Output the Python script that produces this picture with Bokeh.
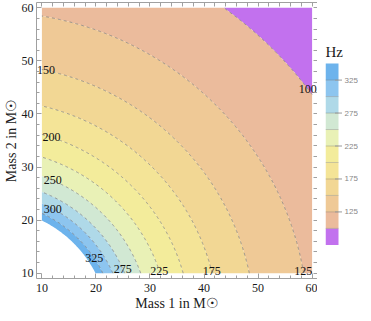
import numpy as np
from bokeh.plotting import figure
from bokeh.layouts import row
from bokeh.models import LinearAxis, FixedTicker, Range1d, ColumnDataSource, Label
from bokeh.core.properties import value
from bokeh.embed import file_html
from bokeh.resources import INLINE

# ---- data ----
levels = [75, 100, 125, 150, 175, 200, 225, 250, 275, 300, 325, 350]
# contour level (Hz) and the radius sqrt(m1^2 + m2^2) at which it lies
level_values = [100, 125, 150, 175, 200, 225, 250, 275, 300, 325, 350]
level_radii = [74.2, 59.3, 49.4, 42.7, 37.5, 33.4, 30.0, 27.2, 25.2, 23.5, 22.3]
band_colors = ["#c271ee", "#ebbb9c", "#efc996", "#f2d794", "#f4e497", "#f3ec9b",
               "#e9f1b6", "#d1e8d3", "#afd9e8", "#8dc5ef", "#6db3ec"]
label_levels = [100, 125, 150, 175, 200, 225, 250, 275, 300, 325]
label_angles = [37.1, 10.1, 77.4, 14.1, 71.7, 18.3, 66.4, 23.3, 61.6, 33.1]
legend_ticks = [125, 175, 225, 275, 325]
mass_ticks = [10, 20, 30, 40, 50, 60]
mass_minor = list(range(10, 61, 2))

# ---- field built from the read contour radii ----
m = np.linspace(10, 60, 251)
M1, M2 = np.meshgrid(m, m)
R = np.hypot(M1, M2)
r_arr = np.array(level_radii)
fr_arr = np.array(level_values) * r_arr
F = np.interp(R, r_arr[::-1], fr_arr[::-1]) / R

serif = "Liberation Serif"
frame_gray = "#a0a0a0"
H = 313

p = figure(width=317, height=H, x_range=Range1d(9, 61), y_range=Range1d(9, 61),
           output_backend="svg", toolbar_location=None,
           min_border_left=0, min_border_right=0, min_border_top=2, min_border_bottom=0,
           x_axis_label="Mass 1 in M\u2609", y_axis_label="Mass 2 in M\u2609")
p.grid.visible = False
p.outline_line_color = None
p.background_fill_color = "white"

cr = p.contour(m, m, F, levels, fill_color=band_colors,
               line_color="#7a7a7a",
               line_alpha=[0] + [0.7] * 10 + [0],
               line_dash="3 3", line_width=1)

# contour labels
lab_r = np.interp(label_levels, level_values, level_radii)
ang = np.deg2rad(label_angles)
src = ColumnDataSource(dict(x=lab_r * np.cos(ang), y=lab_r * np.sin(ang),
                            t=[str(v) for v in label_levels]))
p.text("x", "y", text="t", source=src, text_font=value(serif), text_font_size="12px",
       text_color="#111111", text_align="center", text_baseline="middle")

# frame: labelled axes below/left, tick-only axes above/right
top = LinearAxis(ticker=FixedTicker(ticks=[], minor_ticks=mass_minor))
right = LinearAxis(ticker=FixedTicker(ticks=[], minor_ticks=mass_minor))
p.add_layout(top, "above")
p.add_layout(right, "right")
bottom_ax = p.below[0]
left_ax = p.left[0]
for ax in [bottom_ax, left_ax]:
    ax.ticker = FixedTicker(ticks=mass_ticks, minor_ticks=mass_minor)
    ax.major_label_text_font = serif
    ax.major_label_text_font_size = "12px"
    ax.major_label_text_color = "#1a1a1a"
    ax.axis_label_text_font = serif
    ax.axis_label_text_font_size = "14px"
    ax.axis_label_text_font_style = "normal"
    ax.axis_label_text_color = "#1a1a1a"
for ax in [bottom_ax, left_ax, top, right]:
    ax.axis_line_color = frame_gray
    ax.major_tick_line_color = frame_gray
    ax.minor_tick_line_color = frame_gray
    ax.major_tick_in = 5
    ax.major_tick_out = 0
    ax.minor_tick_in = 3
    ax.minor_tick_out = 0
for ax in [top, right]:
    ax.minor_tick_in = 4
    ax.major_label_standoff = 0
    ax.axis_label_standoff = 0
bottom_ax.major_label_standoff = 5
bottom_ax.axis_label_standoff = 1
left_ax.major_label_standoff = 3
left_ax.axis_label_standoff = 0

# ---- legend: separate narrow figure drawn from the same levels/colours ----
# pixel layout of the (row-aligned) frame and of the bar inside it
frame_top_px, frame_bot_px, bar_top_px, bar_bot_px = 5, 276, 65, 243
bar_px, frame_w_px = 13, 33
hz_per_px = (levels[-1] - levels[0]) / (bar_bot_px - bar_top_px)
y0 = levels[0] - (frame_bot_px - bar_bot_px) * hz_per_px
y1 = levels[-1] + (bar_top_px - frame_top_px) * hz_per_px

lg = figure(width=41, height=H, x_range=Range1d(0, frame_w_px / bar_px), y_range=Range1d(y0, y1),
            output_backend="svg", toolbar_location=None,
            x_axis_location=None, y_axis_location=None,
            min_border_left=8, min_border_right=0, min_border_top=2, min_border_bottom=0)
lg.grid.visible = False
lg.outline_line_color = None
lg.quad(left=0, right=1, bottom=levels[:-1], top=levels[1:], fill_color=band_colors,
        line_color=None)
lg.segment(x0=0, x1=1, y0=levels[1:-1], y1=levels[1:-1], line_color="#707070",
           line_alpha=0.35, line_width=1)
lg.scatter(x=[1] * len(legend_ticks), y=legend_ticks, marker="dash", size=7,
           line_color="#999999", line_width=1)
lg.text(x=[1] * len(legend_ticks), y=legend_ticks, text=[str(t) for t in legend_ticks],
        x_offset=6, text_font=value("Liberation Sans"), text_font_size="8px",
        text_color="#888888", text_align="left", text_baseline="middle")
lg.add_layout(Label(x=0, y=levels[-1], y_offset=4, text="Hz", text_font=serif,
                    text_font_size="15px", text_color="#1a1a1a",
                    text_align="left", text_baseline="bottom"))

layout = row(p, lg)
open("out.html", "w").write(file_html(layout, INLINE))
